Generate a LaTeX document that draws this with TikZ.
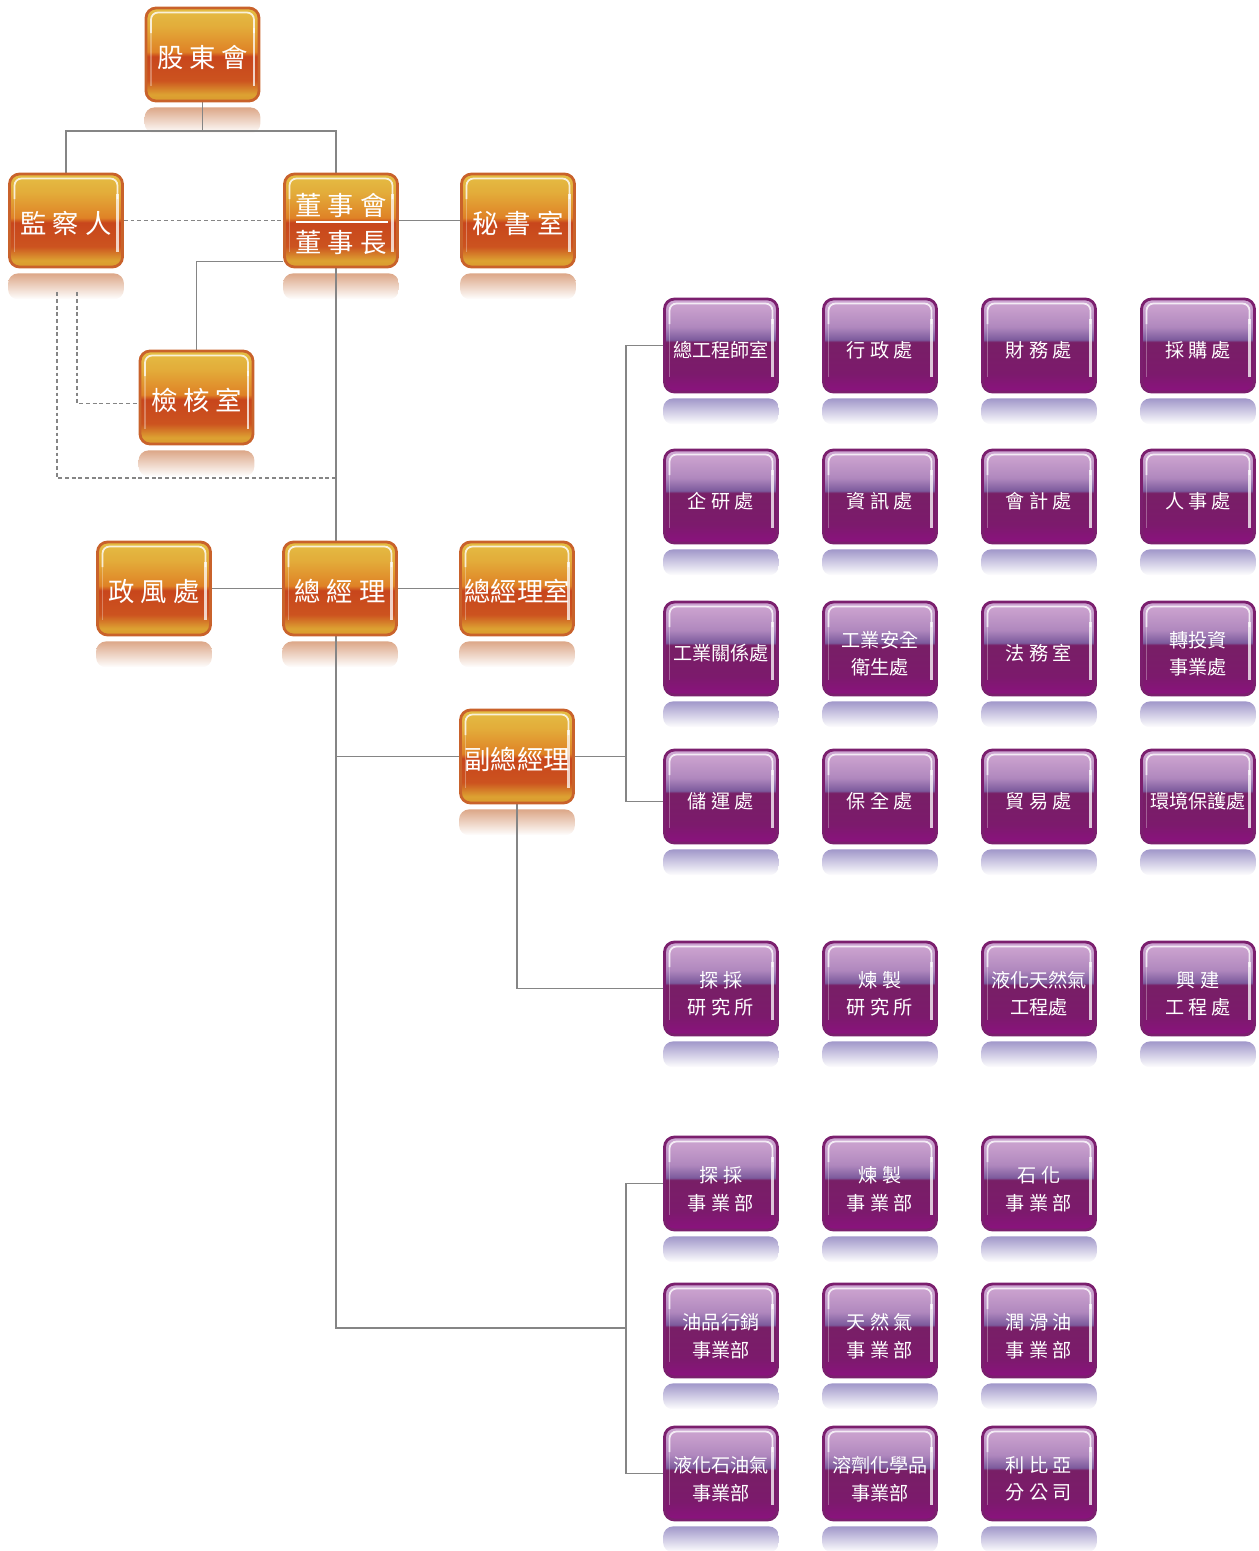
\documentclass[tikz,border=0pt]{standalone}
\usepackage{fontspec}
\setmainfont{Noto Sans CJK TC}
\usepackage{tikz}
\usetikzlibrary{backgrounds}
\definecolor{orgline}{HTML}{C9622B}
\definecolor{orgtop}{HTML}{E4BE44}
\definecolor{orgtop2}{HTML}{E3AC3A}
\definecolor{orgmid}{HTML}{DF8226}
\definecolor{orgred}{HTML}{C8461C}
\definecolor{orgred2}{HTML}{CC531F}
\definecolor{orgbot2}{HTML}{DDA232}
\definecolor{orgbot}{HTML}{D99A2E}
\definecolor{orgrefl}{HTML}{DCA788}
\definecolor{orgrefl2}{HTML}{EFD6BE}
\definecolor{purline}{HTML}{7B1F6E}
\definecolor{purtop}{HTML}{CDA6D2}
\definecolor{purtop2}{HTML}{C79ECC}
\definecolor{purmid}{HTML}{B088BE}
\definecolor{purband}{HTML}{7B5A9C}
\definecolor{purdark}{HTML}{781F66}
\definecolor{purdark2}{HTML}{7C1A6C}
\definecolor{purbot}{HTML}{8B127F}
\definecolor{purrefl}{HTML}{A198CA}
\definecolor{purrefl2}{HTML}{CCC7E4}
\definecolor{linkgray}{HTML}{858585}
\pgfdeclareverticalshading{orgshade}{100bp}{color(0bp)=(orgbot); color(25bp)=(orgbot); color(28.5bp)=(orgbot2); color(36bp)=(orgred2); color(49bp)=(orgred); color(51.5bp)=(orgmid); color(65bp)=(orgtop2); color(75bp)=(orgtop); color(100bp)=(orgtop)}
\pgfdeclareverticalshading{purshade}{100bp}{color(0bp)=(purbot); color(25bp)=(purbot); color(35bp)=(purdark2); color(52bp)=(purdark); color(53bp)=(purband); color(60bp)=(purmid); color(70bp)=(purtop2); color(75bp)=(purtop); color(100bp)=(purtop)}

\begin{document}
\begin{tikzpicture}[x=0.02cm,y=-0.02cm,
  gloss/.style={path picture={
    \draw[white,opacity=.8,line width=1pt,rounded corners=0.14cm]
      ([shift={(0.1cm,-0.5cm)}]path picture bounding box.north west) --
      ([shift={(0.1cm,-0.09cm)}]path picture bounding box.north west) --
      ([shift={(-0.1cm,-0.09cm)}]path picture bounding box.north east) --
      ([shift={(-0.1cm,-0.5cm)}]path picture bounding box.north east);
    \draw[white,opacity=.75,line width=1.3pt]
      ([shift={(-0.1cm,-0.4cm)}]path picture bounding box.north east) --
      ([shift={(-0.1cm,0.3cm)}]path picture bounding box.south east);
    \draw[white,opacity=.3,line width=1pt]
      ([shift={(0.1cm,-0.5cm)}]path picture bounding box.north west) --
      ([shift={(0.1cm,0.3cm)}]path picture bounding box.south west);}},
  orgbox/.style={draw=orgline,line width=1.6pt,rounded corners=0.2cm,shade,shading=orgshade,
    minimum width=2.26cm,minimum height=1.86cm,inner sep=0pt,text=white,align=center,
    font=\fontsize{15}{21}\selectfont,execute at begin node={\rule{0pt}{1.05em}},gloss},
  purbox/.style={draw=purline,line width=1.6pt,rounded corners=0.2cm,shade,shading=purshade,
    minimum width=2.26cm,minimum height=1.86cm,inner sep=0pt,text=white,align=center,
    font=\fontsize{10.9}{15.9}\selectfont,execute at begin node={\rule{0pt}{1.35em}},gloss},
  orgtwo/.style={orgbox,execute at begin node={\rule{0pt}{2.5em}}},
  purtwo/.style={purbox,execute at begin node={\rule{0pt}{2.85em}}},
  link/.style={draw=linkgray,line width=0.7pt},
  duty/.style={link,dash pattern=on 2.2pt off 1.6pt}]
\useasboundingbox (0,0) rectangle (1258,1551);

\node[orgbox] (sh) at (202.5,54.5) {股 東 會};
\node[orgbox] (sup) at (66,220.5) {監 察 人};
\node[orgtwo] (board) at (341,220.5) {董 事 會\\董 事 長};
\node[orgbox] (sec) at (518,220.5) {秘 書 室};
\node[orgbox] (audit) at (196.5,397.5) {檢 核 室};
\node[orgbox] (ethics) at (154,588.5) {政 風 處};
\node[orgbox] (gm) at (340,588.5) {總 經 理};
\node[orgbox] (gmo) at (517,588.5) {總經理室};
\node[orgbox] (vgm) at (517,756.5) {副總經理};
\draw[white,line width=0.9pt] ([xshift=0.26cm,yshift=-0.03cm]board.west) -- ([xshift=-0.22cm,yshift=-0.03cm]board.east);

\node[purbox] (eng) at (721,345.5) {總工程師室};
\node[purbox] (admin) at (880,345.5) {行 政 處};
\node[purbox] (fin) at (1039,345.5) {財 務 處};
\node[purbox] (purch) at (1198,345.5) {採 購 處};
\node[purbox] (plan) at (721,496.5) {企 研 處};
\node[purbox] (info) at (880,496.5) {資 訊 處};
\node[purbox] (acct) at (1039,496.5) {會 計 處};
\node[purbox] (hr) at (1198,496.5) {人 事 處};
\node[purbox] (labor) at (721,648.5) {工業關係處};
\node[purtwo] (safety) at (880,648.5) {工業安全\\衛生處};
\node[purbox] (legal) at (1039,648.5) {法 務 室};
\node[purtwo] (invest) at (1198,648.5) {轉投資\\事業處};
\node[purbox] (trans) at (721,796.5) {儲 運 處};
\node[purbox] (secur) at (880,796.5) {保 全 處};
\node[purbox] (trade) at (1039,796.5) {貿 易 處};
\node[purbox] (env) at (1198,796.5) {環境保護處};
\node[purtwo] (lab1) at (721,988.5) {探 採\\研 究 所};
\node[purtwo] (lab2) at (880,988.5) {煉 製\\研 究 所};
\node[purtwo] (lng) at (1039,988.5) {液化天然氣\\工程處};
\node[purtwo] (build) at (1198,988.5) {興 建\\工 程 處};
\node[purtwo] (upst) at (721,1183.5) {探 採\\事 業 部};
\node[purtwo] (refin) at (880,1183.5) {煉 製\\事 業 部};
\node[purtwo] (chem) at (1039,1183.5) {石 化\\事 業 部};
\node[purtwo] (market) at (721,1330.5) {油品行銷\\事業部};
\node[purtwo] (gas) at (880,1330.5) {天 然 氣\\事 業 部};
\node[purtwo] (lube) at (1039,1330.5) {潤 滑 油\\事 業 部};
\node[purtwo] (lpg) at (721,1473.5) {液化石油氣\\事業部};
\node[purtwo] (solv) at (880,1473.5) {溶劑化學品\\事業部};
\node[purtwo] (libya) at (1039,1473.5) {利 比 亞\\分 公 司};

\coordinate (trunk) at (336,131);
\coordinate (ctrl) at (336,478);
\coordinate (hq) at (626,756.5);
\coordinate (ops) at (626,1328);

\begin{scope}[on background layer]
\foreach \n in {sh,sup,board,sec,audit,ethics,gm,gmo,vgm}
  \shade[top color=orgrefl,middle color=orgrefl2,bottom color=white,rounded corners=0.2cm]
    ([yshift=-0.1cm]\n.south west) rectangle ([yshift=-0.62cm]\n.south east);
\foreach \n in {eng,admin,fin,purch,plan,info,acct,hr,labor,safety,legal,invest,
  trans,secur,trade,env,lab1,lab2,lng,build,upst,refin,chem,market,gas,lube,lpg,solv,libya}
  \shade[top color=purrefl,middle color=purrefl2,bottom color=white,rounded corners=0.2cm]
    ([yshift=-0.1cm]\n.south west) rectangle ([yshift=-0.62cm]\n.south east);

\draw[link] (sh.south) -- (sh.south |- trunk);
\draw[link] (sup.north) |- (trunk) -- (trunk |- board.north);
\draw[duty] (sup.east) -- (board.west);
\draw[link] (board.east) -- (sec.west);
\draw[link] ([yshift=0.14cm]board.south west) -| (audit.north);
\draw[duty] ([xshift=0.22cm,yshift=-0.48cm]sup.south) |- ([yshift=-0.12cm]audit.west);
\draw[duty] ([xshift=-0.18cm,yshift=-0.48cm]sup.south) |- (ctrl);
\draw[link] (trunk |- board.south) -- (trunk |- ops) -- (ops);
\draw[link] (ethics.east) -- (gm.west);
\draw[link] (gm.east) -- (gmo.west);
\draw[link] (trunk |- vgm.west) -- (vgm.west);
\draw[link] (vgm.east) -- (hq);
\draw[link] (eng.west) -| (hq) |- ([yshift=-0.1cm]trans.west);
\draw[link] (vgm.south) |- (lab1.west);
\draw[link] (upst.west) -| (ops) |- (lpg.west);
\end{scope}
\end{tikzpicture}
\end{document}
